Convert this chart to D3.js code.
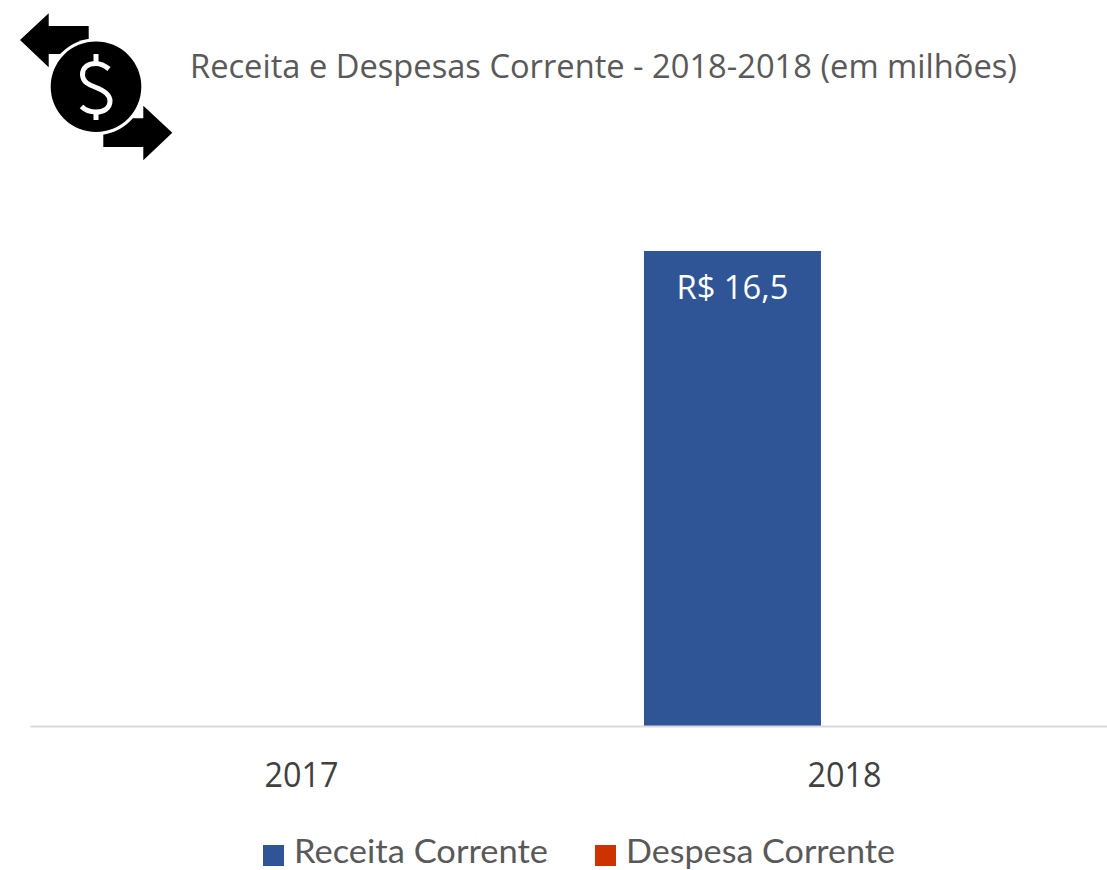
<!DOCTYPE html>
<html>
<head>
<meta charset="utf-8">
<title>Receita e Despesas Corrente</title>
<script src="https://cdn.jsdelivr.net/npm/d3@7"></script>
<style>
  html, body { margin: 0; padding: 0; background: #fff; overflow: hidden; }
  svg { display: block; font-family: "Open Sans", "Noto Sans", sans-serif; }
</style>
</head>
<body>
<div id="chart"></div>
<script>
// chart values
const titleText = "Receita e Despesas Corrente - 2018-2018 (em milhões)";
const years = ["2017", "2018"];
const seriesNames = ["Receita Corrente", "Despesa Corrente"];
const receitaValues = [null, 16.5];
const despesaValues = [null, null];
const seriesColors = ["#2F5597", "#CC3300"];

const width = 1107;
const height = 870;
const axisY = 726;
const barTop = 251;

const svg = d3.select("#chart")
    .append("svg")
    .attr("width", width)
    .attr("height", height);

// scales
const x0 = d3.scaleBand()
    .domain(years)
    .range([30, 1116])
    .paddingInner(0.2615)
    .paddingOuter(0.1308);

const x1 = d3.scaleBand()
    .domain(seriesNames)
    .range([0, x0.bandwidth()])
    .paddingInner(0.21);

const y = d3.scaleLinear()
    .domain([0, 16.5])
    .range([axisY, barTop]);

const color = d3.scaleOrdinal().domain(seriesNames).range(seriesColors);

// flatten the series into one list of bars, empty values draw nothing
const bars = [];
seriesNames.forEach((name, s) => {
    const values = s === 0 ? receitaValues : despesaValues;
    years.forEach((year, i) => {
        if (values[i] !== null) bars.push({ name, year, value: values[i] });
    });
});

// bars
svg.append("g")
    .selectAll("rect")
    .data(bars)
    .join("rect")
    .attr("x", d => x0(d.year) + x1(d.name))
    .attr("y", d => y(d.value))
    .attr("width", x1.bandwidth())
    .attr("height", d => y(0) - y(d.value))
    .attr("fill", d => color(d.name));

// value labels inside the bars
svg.append("g")
    .selectAll("text")
    .data(bars)
    .join("text")
    .attr("x", d => x0(d.year) + x1(d.name) + x1.bandwidth() / 2)
    .attr("y", d => y(d.value) + 47.5)
    .attr("text-anchor", "middle")
    .attr("font-size", 32)
    .attr("fill", "#fff")
    .attr("textLength", 112)
    .attr("lengthAdjust", "spacingAndGlyphs")
    .text(d => "R$ " + d.value.toFixed(1).replace(".", ","));

// x axis
const xAxis = svg.append("g")
    .attr("transform", `translate(0,${axisY})`)
    .call(d3.axisBottom(x0).tickSize(0).tickPadding(36));

xAxis.select(".domain")
    .attr("stroke", "#D9D9D9")
    .attr("stroke-width", 2);

xAxis.selectAll("text")
    .attr("font-family", "'Open Sans', 'Noto Sans', sans-serif")
    .attr("font-size", 35)
    .attr("fill", "#404040")
    .attr("textLength", 74)
    .attr("lengthAdjust", "spacingAndGlyphs");

// title
svg.append("text")
    .attr("x", 190)
    .attr("y", 78)
    .attr("font-size", 33)
    .attr("fill", "#595959")
    .attr("textLength", 827)
    .attr("lengthAdjust", "spacingAndGlyphs")
    .text(titleText);

// legend
const legendSwatchX = [263, 595];
const legendTextLength = [254, 269];
const legend = svg.append("g")
    .selectAll("g")
    .data(seriesNames)
    .join("g")
    .attr("transform", (d, i) => `translate(${legendSwatchX[i]},845)`);

legend.append("rect")
    .attr("width", 21)
    .attr("height", 21)
    .attr("fill", d => color(d));

// Lato has a shorter descender, so the p of Despesa stays inside the page
legend.append("text")
    .attr("x", 31)
    .attr("y", 18)
    .attr("font-family", "Lato, 'Open Sans', sans-serif")
    .attr("font-size", 32)
    .attr("fill", "#595959")
    .attr("textLength", (d, i) => legendTextLength[i])
    .attr("lengthAdjust", "spacingAndGlyphs")
    .text(d => d);

// money icon top left
const icon = svg.append("g");

icon.append("path")
    .attr("fill", "#000")
    .attr("d", "M20,40 L48.7,13.3 L48.7,26 L88.7,26 L88.7,50 L59,54 L48.7,54 L48.7,67.3 Z");

icon.append("path")
    .attr("fill", "#000")
    .attr("d", "M172.3,132.7 L143.3,105.7 L143.3,118.3 L125,118.3 L103.3,125 L103.3,147 L143.3,147 L143.3,160.3 Z");

icon.append("circle")
    .attr("cx", 96)
    .attr("cy", 86.7)
    .attr("r", 48.5)
    .attr("fill", "#fff");

icon.append("circle")
    .attr("cx", 96)
    .attr("cy", 86.7)
    .attr("r", 45.3)
    .attr("fill", "#000");

icon.append("path")
    .attr("fill", "none")
    .attr("stroke", "#fff")
    .attr("stroke-width", 5)
    .attr("d", "M109,69 C104,65 100,63.5 96,63.5 C87,63.5 82.5,68 82.5,74.5 C82.5,82 89,85 96,87.5 C104,90.5 110,94 110,101 C110,108 104,112 96,112 C90,112 85,110 81.5,106.5 M96,54 L96,63.5 M96,112 L96,120");
</script>
</body>
</html>
